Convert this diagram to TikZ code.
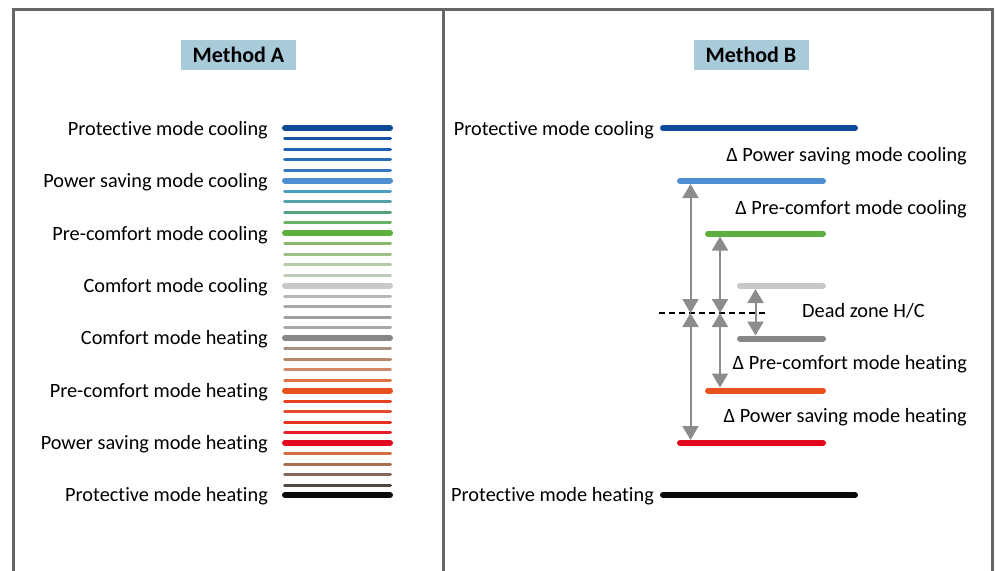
\documentclass[tikz,border=0pt]{standalone}
\usepackage{fontspec}
\setmainfont{Carlito}[Ligatures=NoCommon]
\usetikzlibrary{arrows.meta}

\definecolor{framegray}{HTML}{666666}
\definecolor{titleblue}{HTML}{A8CAD9}
\definecolor{arrowgray}{HTML}{8C8C8C}
% main set points
\definecolor{prcool}{HTML}{0D4A97}
\definecolor{pscool}{HTML}{4D8FD0}
\definecolor{pccool}{HTML}{5DAE3C}
\definecolor{cfcool}{HTML}{C8C8C8}
\definecolor{cfheat}{HTML}{878787}
\definecolor{pcheat}{HTML}{E8501E}
\definecolor{psheat}{HTML}{E2091F}
\definecolor{prheat}{HTML}{0A0A0A}

\begin{document}
\begin{tikzpicture}[x=1pt,y=-1pt,
  frame/.style={draw=framegray,line width=3pt},
  title/.style={fill=titleblue,font=\bfseries\fontsize{22}{26}\selectfont,minimum width=115pt,minimum height=30pt,inner sep=0pt},
  lbl/.style={font=\fontsize{20.3}{24}\selectfont,inner sep=0pt},
  major/.style={line width=6pt,line cap=round},
  minor/.style={line width=3pt,line cap=round},
  delta/.style={draw=arrowgray,line width=2pt,{Triangle[width=16pt,length=14pt]}-{Triangle[width=16pt,length=14pt]}}]
\useasboundingbox (0,0) rectangle (995,570);
\draw[frame] (13,575) -- (13,9) -- (992,9) -- (992,575);
\draw[frame] (443,9) -- (443,575);

\node[title] (methA) at (238.5,55) {Method A};
\node[title] (methB) at (751,55) {Method B};

% Method A
\node[lbl,anchor=base east] (a1) at (268,135) {Protective mode cooling};
\node[lbl,anchor=base east] (a2) at (268,187.5) {Power saving mode cooling};
\node[lbl,anchor=base east] (a3) at (268,240) {Pre-comfort mode cooling};
\node[lbl,anchor=base east] (a4) at (268,292.5) {Comfort mode cooling};
\node[lbl,anchor=base east] (a5) at (268,344.5) {Comfort mode heating};
\node[lbl,anchor=base east] (a6) at (268,397) {Pre-comfort mode heating};
\node[lbl,anchor=base east] (a7) at (268,449) {Power saving mode heating};
\node[lbl,anchor=base east] (a8) at (268,501) {Protective mode heating};

\draw[major,prcool] (285,128) -- (390,128);
\draw[minor,color={rgb,255:red,23;green,85;blue,163}] (284.5,138.5) -- (390.5,138.5);
\draw[minor,color={rgb,255:red,26;green,99;blue,174}] (284.5,149) -- (390.5,149);
\draw[minor,color={rgb,255:red,37;green,112;blue,184}] (284.5,159.5) -- (390.5,159.5);
\draw[minor,color={rgb,255:red,52;green,121;blue,192}] (284.5,170) -- (390.5,170);
\draw[major,pscool] (285,180.5) -- (390,180.5);
\draw[minor,color={rgb,255:red,75;green,157;blue,192}] (284.5,191) -- (390.5,191);
\draw[minor,color={rgb,255:red,85;green,163;blue,168}] (284.5,201.5) -- (390.5,201.5);
\draw[minor,color={rgb,255:red,85;green,160;blue,126}] (284.5,212) -- (390.5,212);
\draw[minor,color={rgb,255:red,102;green,177;blue,99}] (284.5,222.5) -- (390.5,222.5);
\draw[major,pccool] (285,233) -- (390,233);
\draw[minor,color={rgb,255:red,134;green,184;blue,104}] (284.5,243.5) -- (390.5,243.5);
\draw[minor,color={rgb,255:red,157;green,192;blue,135}] (284.5,254) -- (390.5,254);
\draw[minor,color={rgb,255:red,181;green,203;blue,168}] (284.5,264.5) -- (390.5,264.5);
\draw[minor,color={rgb,255:red,191;green,203;blue,184}] (284.5,275) -- (390.5,275);
\draw[major,cfcool] (285,285.5) -- (390,285.5);
\draw[minor,color={rgb,255:red,183;green,183;blue,183}] (284.5,296) -- (390.5,296);
\draw[minor,color={rgb,255:red,168;green,168;blue,168}] (284.5,306.5) -- (390.5,306.5);
\draw[minor,color={rgb,255:red,160;green,160;blue,160}] (284.5,317) -- (390.5,317);
\draw[minor,color={rgb,255:red,168;green,168;blue,168}] (284.5,327.5) -- (390.5,327.5);
\draw[major,cfheat] (285,338) -- (390,338);
\draw[minor,color={rgb,255:red,168;green,144;blue,128}] (284.5,348.5) -- (390.5,348.5);
\draw[minor,color={rgb,255:red,183;green,135;blue,106}] (284.5,359) -- (390.5,359);
\draw[minor,color={rgb,255:red,212;green,137;blue,106}] (284.5,369.5) -- (390.5,369.5);
\draw[minor,color={rgb,255:red,224;green,116;blue,63}] (284.5,380) -- (390.5,380);
\draw[major,pcheat] (285,390.5) -- (390,390.5);
\draw[minor,color={rgb,255:red,232;green,64;blue,30}] (284.5,401) -- (390.5,401);
\draw[minor,color={rgb,255:red,232;green,74;blue,48}] (284.5,411.5) -- (390.5,411.5);
\draw[minor,color={rgb,255:red,232;green,48;blue,30}] (284.5,422) -- (390.5,422);
\draw[minor,color={rgb,255:red,229;green,32;blue,42}] (284.5,432.5) -- (390.5,432.5);
\draw[major,psheat] (285,443) -- (390,443);
\draw[minor,color={rgb,255:red,208;green,112;blue,64}] (284.5,453.5) -- (390.5,453.5);
\draw[minor,color={rgb,255:red,168;green,112;blue,79}] (284.5,464) -- (390.5,464);
\draw[minor,color={rgb,255:red,132;green,103;blue,90}] (284.5,474.5) -- (390.5,474.5);
\draw[minor,color={rgb,255:red,81;green,72;blue,64}] (284.5,485) -- (390.5,485);
\draw[major,prheat] (285,495) -- (390,495);

% Method B
\node[lbl,anchor=base east] (b1) at (654,135) {Protective mode cooling};
\node[lbl,anchor=base east] (b8) at (654,501) {Protective mode heating};
\node[lbl,anchor=base east] (d1) at (967,161.5) {Δ Power saving mode cooling};
\node[lbl,anchor=base east] (d2) at (967,214.5) {Δ Pre-comfort mode cooling};
\node[lbl,anchor=base west] (dz) at (802,317.5) {Dead zone H/C};
\node[lbl,anchor=base east] (d3) at (967,369.5) {Δ Pre-comfort mode heating};
\node[lbl,anchor=base east] (d4) at (967,422.5) {Δ Power saving mode heating};

\draw[major,prcool] (663,128) -- (855,128);
\draw[major,pscool] (680,181) -- (823,181);
\draw[major,pccool] (708,233.5) -- (823,233.5);
\draw[major,cfcool] (740,286) -- (823,286);
\draw[major,cfheat] (740,338.5) -- (823,338.5);
\draw[major,pcheat] (708,390.5) -- (823,390.5);
\draw[major,psheat] (680,443) -- (823,443);
\draw[major,prheat] (663,495) -- (855,495);

\coordinate (zoneL) at (659,313);
\coordinate (zoneR) at (768,313);
\draw[black,line width=1.6pt,dash pattern=on 6pt off 4pt] (zoneL) -- (zoneR);

\coordinate (ps1) at (690.5,184);
\coordinate (ps0) at (690.5,313);
\coordinate (ps2) at (690.5,440);
\coordinate (pc1) at (720,236.5);
\coordinate (pc0) at (720,313);
\coordinate (pc2) at (720,387.5);
\coordinate (cf1) at (755.5,289);
\coordinate (cf2) at (755.5,335.5);

\draw[delta] (ps1) -- (ps0);
\draw[delta] (ps0) -- (ps2);
\draw[delta] (pc1) -- (pc0);
\draw[delta] (pc0) -- (pc2);
\draw[delta] (cf1) -- (cf2);
\end{tikzpicture}
\end{document}
